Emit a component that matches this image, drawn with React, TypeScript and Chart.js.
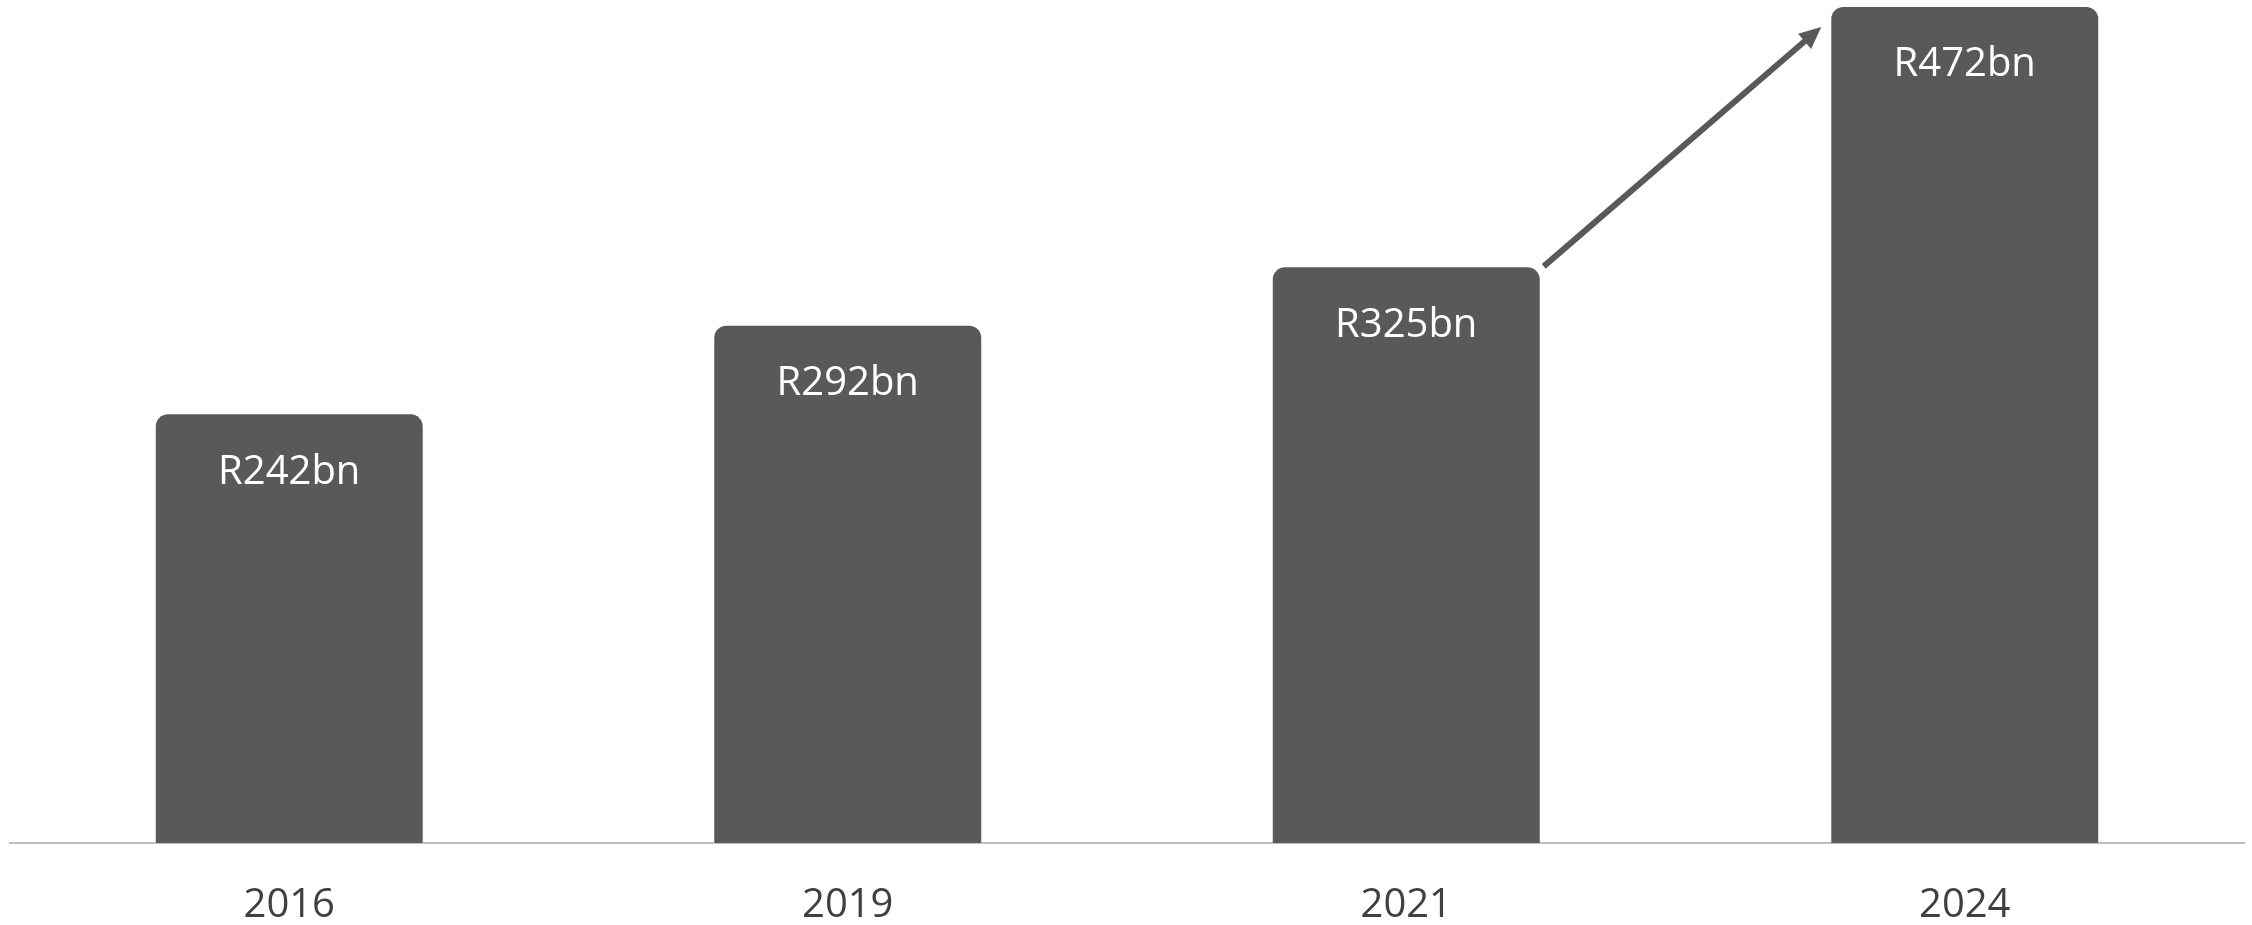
import React, { useEffect, useRef } from "react";
import { Chart, registerables } from "chart.js";

Chart.register(...registerables);

const categories = ["2016", "2019", "2021", "2024"];
const values = [242, 292, 325, 472];
const valueLabels = ["R242bn", "R292bn", "R325bn", "R472bn"];

const BAR_COLOR = "#595959";
const FONT = "'Open Sans', 'Noto Sans', sans-serif";

const valueLabelPlugin = {
  id: "valueLabels",
  afterDatasetsDraw(chart: any) {
    const ctx = chart.ctx;
    const meta = chart.getDatasetMeta(0);
    ctx.save();
    ctx.fillStyle = "#ffffff";
    ctx.font = `40px ${FONT}`;
    ctx.textAlign = "center";
    ctx.textBaseline = "middle";
    meta.data.forEach((el: any, i: number) => {
      ctx.fillText(valueLabels[i], el.x, el.y + 58);
    });
    ctx.restore();
  },
};

const arrowPlugin = {
  id: "growthArrow",
  afterDatasetsDraw(chart: any) {
    const ctx = chart.ctx;
    const meta = chart.getDatasetMeta(0);
    const a = meta.data[2];
    const b = meta.data[3];
    if (!a || !b) return;
    const x1 = a.x + a.width / 2 + 4;
    const y1 = a.y - 1;
    const x2 = b.x - b.width / 2 - 10;
    const y2 = b.y + 20;
    const ang = Math.atan2(y2 - y1, x2 - x1);
    const headLen = 22;
    const headHalf = 10;
    const bx = x2 - headLen * Math.cos(ang);
    const by = y2 - headLen * Math.sin(ang);
    ctx.save();
    ctx.strokeStyle = BAR_COLOR;
    ctx.fillStyle = BAR_COLOR;
    ctx.lineWidth = 6;
    ctx.beginPath();
    ctx.moveTo(x1, y1);
    ctx.lineTo(bx + 2 * Math.cos(ang), by + 2 * Math.sin(ang));
    ctx.stroke();
    ctx.beginPath();
    ctx.moveTo(x2, y2);
    ctx.lineTo(bx + headHalf * Math.sin(ang), by - headHalf * Math.cos(ang));
    ctx.lineTo(bx - headHalf * Math.sin(ang), by + headHalf * Math.cos(ang));
    ctx.closePath();
    ctx.fill();
    ctx.restore();
  },
};

export default function App() {
  const canvasRef = useRef<HTMLCanvasElement | null>(null);

  useEffect(() => {
    if (!canvasRef.current) return;
    const chart = new Chart(canvasRef.current, {
      type: "bar",
      data: {
        labels: categories,
        datasets: [
          {
            data: values,
            backgroundColor: BAR_COLOR,
            borderRadius: 12,
            borderSkipped: "start",
            categoryPercentage: 1,
            barPercentage: 0.478,
          },
        ],
      },
      options: {
        responsive: false,
        animation: false,
        devicePixelRatio: 1,
        layout: { padding: { left: 10, right: 8, top: 7, bottom: -44 } },
        plugins: {
          legend: { display: false },
          tooltip: { enabled: false },
        },
        scales: {
          x: {
            z: 1,
            grid: { display: false, drawTicks: false },
            border: { display: true, color: "#bfbfbf", width: 2 },
            ticks: {
              color: "#404040",
              padding: 43,
              font: { family: FONT, size: 40, lineHeight: 1 },
            },
          },
          y: {
            display: false,
            min: 0,
            max: 472,
          },
        },
      },
      plugins: [valueLabelPlugin, arrowPlugin],
    });
    return () => chart.destroy();
  }, []);

  return (
    <div style={{ position: "absolute", left: 0, top: 0, width: 2252, height: 925, background: "#ffffff" }}>
      <canvas ref={canvasRef} width={2252} height={925} style={{ display: "block" }} />
    </div>
  );
}
